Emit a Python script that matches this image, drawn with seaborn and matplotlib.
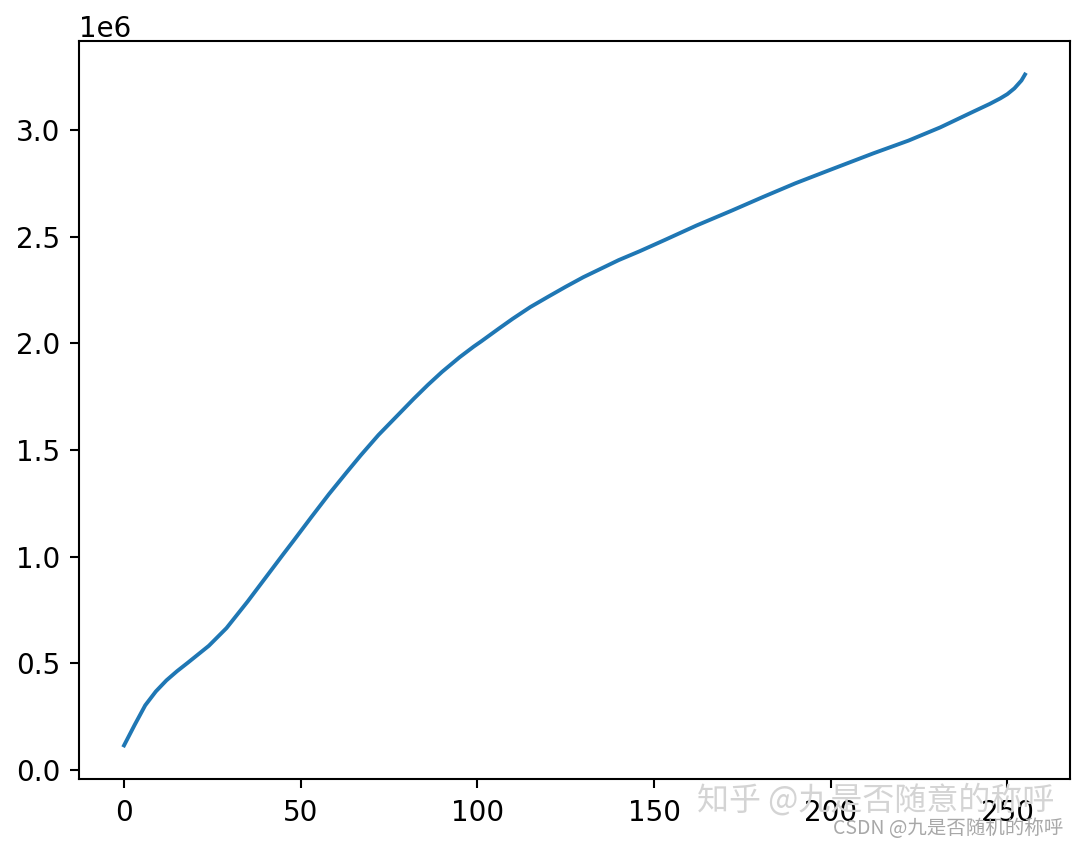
import matplotlib
matplotlib.use('Agg')
import matplotlib.pyplot as plt
import seaborn as sns
import pandas as pd

# gray level and cumulative pixel count in millions
gray_level = [0, 3, 6, 9, 12, 15, 18, 24, 29, 35, 40, 45, 48, 53, 58, 63, 67, 72, 77,
              82, 86, 90, 95, 99, 101, 106, 110, 115, 120, 125, 130, 135, 140, 146,
              153, 162, 172, 181, 190, 200, 206, 212, 222, 231, 240, 245, 248, 250,
              252, 254, 255]
cum_count = [0.115, 0.211, 0.303, 0.368, 0.420, 0.463, 0.502, 0.582, 0.665, 0.790,
             0.900, 1.010, 1.075, 1.185, 1.293, 1.395, 1.475, 1.570, 1.655, 1.740,
             1.805, 1.866, 1.935, 1.985, 2.008, 2.068, 2.115, 2.170, 2.218, 2.265,
             2.310, 2.350, 2.390, 2.432, 2.484, 2.552, 2.622, 2.687, 2.750, 2.814,
             2.852, 2.890, 2.950, 3.012, 3.083, 3.122, 3.148, 3.168, 3.195, 3.232,
             3.260]

df = pd.DataFrame({'level': gray_level, 'count': [v * 1e6 for v in cum_count]})

plt.rcParams['font.size'] = 20
plt.rcParams['axes.linewidth'] = 1.5
plt.rcParams['xtick.major.width'] = 1.5
plt.rcParams['ytick.major.width'] = 1.5
plt.rcParams['xtick.major.size'] = 6.8
plt.rcParams['ytick.major.size'] = 6.8
plt.rcParams['xtick.major.pad'] = 7.5
plt.rcParams['ytick.major.pad'] = 6.5

fig, ax = plt.subplots(figsize=(10.79, 8.48), dpi=100)
fig.subplots_adjust(left=0.0732, right=0.9917, top=0.9517, bottom=0.0814)

sns.lineplot(data=df, x='level', y='count', color='#1f77b4', linewidth=2.8, ax=ax)
ax.set_xlabel('')
ax.set_ylabel('')
ax.set_xticks([0, 50, 100, 150, 200, 250])

# watermarks
fig.text(0.646, 0.056, '知乎 @九是否随意的称呼', fontsize=23, color='#d4d4d4',
         family=['Noto Sans CJK SC', 'DejaVu Sans'], va='center')
fig.text(0.772, 0.023, 'CSDN @九是否随机的称呼', fontsize=14, color='#a8a8a8',
         family=['Noto Sans CJK SC', 'DejaVu Sans'], va='center')

fig.savefig('out.png', dpi=100)
